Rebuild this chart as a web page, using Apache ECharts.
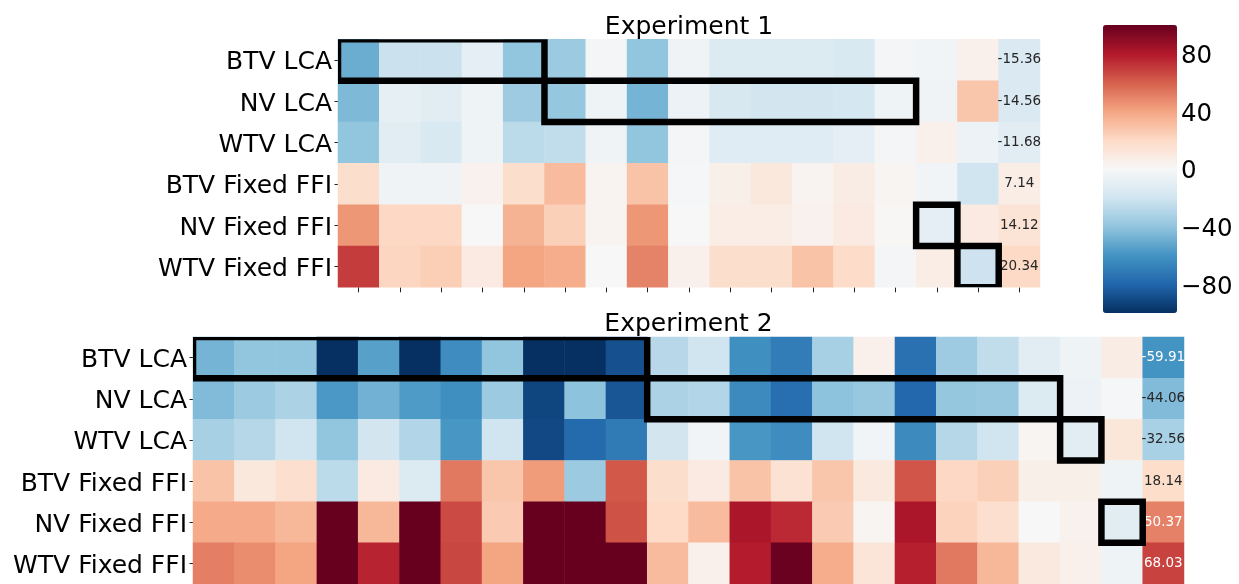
<!DOCTYPE html>
<html>
<head>
<meta charset="utf-8">
<script src="https://cdn.jsdelivr.net/npm/echarts@6/dist/echarts.min.js"></script>
<style>
  html, body { margin: 0; padding: 0; background: #fff; }
  #chart { width: 1239px; height: 584px; }
</style>
</head>
<body>
<div id="chart"></div>
<script>
// Row labels shared by both experiments
const rowLabels = ['BTV LCA', 'NV LCA', 'WTV LCA', 'BTV Fixed FFI', 'NV Fixed FFI', 'WTV Fixed FFI'];

// Experiment 1: per-item scores (16 items) and the row mean shown in the last column
const exp1Cells = [
  [-50, -22, -22, -10, -40, -37, -2, -40, -4, -14, -14, -14, -16, -2, -3, 5],
  [-45, -9, -11, -5, -36, -39, -5, -47, -6, -17, -19, -19, -18, -5, -4, 28],
  [-40, -11, -16, -5, -27, -25, -4, -40, -2, -12, -12, -12, -10, -2, 5, -6],
  [18, -4, -4, 4, 18, 32, 3, 29, -1, 6, 11, 3, 8, 2, -3, -20],
  [44, 21, 21, 0, 35, 24, 3, 44, 0, 7, 7, 4, 9, 1, -10, 9],
  [70, 22, 25, 9, 40, 37, 0, 50, 5, 18, 18, 29, 19, -2, 7, -21]
];
const exp1Means = [-15.36, -14.56, -11.68, 7.14, 14.12, 20.34];

// Experiment 2: per-item scores (23 items) and the row mean
const exp2Cells = [
  [-47, -40, -40, -100, -55, -100, -63, -40, -100, -100, -88, -28, -20, -62, -70, -33, 5, -75, -36, -25, -11, -5, 8],
  [-44, -37, -32, -58, -48, -57, -62, -37, -92, -41, -86, -32, -30, -64, -76, -41, -38, -79, -39, -38, -14, -6, -1],
  [-33, -29, -20, -40, -19, -30, -59, -20, -91, -78, -71, -19, -3, -59, -63, -20, -3, -64, -29, -20, 2, -11, 12],
  [29, 11, 17, -27, 9, -14, 53, 28, 43, -37, 62, 18, 9, 29, 15, 28, 10, 63, 21, 24, 6, 6, -5],
  [38, 38, 33, 100, 33, 100, 66, 26, 100, 100, 64, 20, 32, 82, 75, 26, 2, 82, 23, 17, 0, 4, -11],
  [51, 47, 40, 100, 77, 100, 67, 40, 100, 100, 100, 32, 5, 79, 99, 37, 13, 78, 53, 33, 10, 5, -5]
];
const exp2Means = [-59.91, -44.06, -32.56, 18.14, 50.37, 68.03];

// Highlighted blocks: [first column, last column, row]
const exp1Boxes = [[0, 4, 0], [5, 13, 1], [14, 14, 4], [15, 15, 5]];
const exp2Boxes = [[0, 10, 0], [11, 20, 1], [21, 21, 2], [22, 22, 4]];

// Colour bar ticks
const colorbarTicks = [-80, -40, 0, 40, 80];

// RdBu (reversed) colour map, -100 .. 100
const rdbuR = ['#053061', '#2166ac', '#4393c3', '#92c5de', '#d1e5f0', '#f7f7f7',
               '#fddbc7', '#f4a582', '#d6604d', '#b2182b', '#67001f'];

const FONT = 'DejaVu Sans';

function buildCells(cells, means) {
  const out = [];
  const meanCol = cells[0].length;
  cells.forEach((row, r) => {
    row.forEach((v, c) => out.push({ value: [c, r, v] }));
    const m = means[r];
    out.push({
      value: [meanCol, r, m],
      label: { show: true, color: Math.abs(m) >= 48 ? '#ffffff' : '#262626' }
    });
  });
  return out;
}

function columnKeys(cells) {
  return Array.from({ length: cells[0].length + 1 }, (_, i) => String(i));
}

function boxRenderer(params, api) {
  const c0 = api.value(0), c1 = api.value(1), r = api.value(2);
  const a = api.coord([c0, r]);
  const b = api.coord([c1, r]);
  const s = api.size([1, 1]);
  return {
    type: 'rect',
    shape: { x: a[0] - s[0] / 2, y: a[1] - s[1] / 2, width: b[0] - a[0] + s[0], height: s[1] },
    style: { fill: 'none', stroke: '#000', lineWidth: 6.5, lineJoin: 'miter' }
  };
}

const catYAxis = (gridIndex) => ({
  type: 'category',
  gridIndex,
  data: rowLabels,
  inverse: true,
  axisLine: { show: false },
  axisTick: { show: true, alignWithLabel: true, length: 3.5, lineStyle: { color: '#222', width: 1 } },
  axisLabel: {
    margin: 6,
    formatter: (v) => '{t|' + v + '}',
    rich: { t: { fontFamily: FONT, fontSize: 25, color: '#000', padding: [6, 0, 0, 0] } }
  },
  splitLine: { show: false }
});

const catXAxis = (gridIndex, cells) => ({
  type: 'category',
  gridIndex,
  data: columnKeys(cells),
  axisLine: { show: false },
  axisTick: { show: true, alignWithLabel: true, length: 5, lineStyle: { color: '#222', width: 1 } },
  axisLabel: { show: false },
  splitLine: { show: false }
});

const cellLabel = {
  show: false,
  fontFamily: FONT,
  fontSize: 13.5,
  formatter: (p) => p.value[2].toFixed(2)
};

const chart = echarts.init(document.getElementById('chart'), null, { renderer: 'canvas' });

chart.setOption({
  animation: false,
  backgroundColor: '#ffffff',
  grid: [
    { left: 338, top: 39.3, width: 702, height: 248 },
    { left: 193, top: 337, width: 991, height: 247.5 },
    { left: 1103, top: 25, width: 74, height: 288 }
  ],
  xAxis: [
    catXAxis(0, exp1Cells),
    catXAxis(1, exp2Cells),
    { type: 'value', gridIndex: 2, show: false, min: 0, max: 1 }
  ],
  yAxis: [
    catYAxis(0),
    catYAxis(1),
    {
      type: 'value',
      gridIndex: 2,
      position: 'right',
      min: -100,
      max: 100,
      axisLine: { show: false },
      splitLine: { show: false },
      axisTick: { show: true, length: 3.5, customValues: colorbarTicks, lineStyle: { color: '#222', width: 1 } },
      axisLabel: {
        customValues: colorbarTicks,
        margin: 4,
        formatter: (v) => '{t|' + (v < 0 ? '\u2212' + Math.abs(v) : String(v)) + '}',
        rich: { t: { fontFamily: FONT, fontSize: 24.5, color: '#000', padding: [6, 0, 0, 0] } }
      }
    }
  ],
  visualMap: {
    type: 'continuous',
    min: -100,
    max: 100,
    dimension: 2,
    seriesIndex: [0, 1],
    calculable: false,
    hoverLink: false,
    left: 1103,
    top: 25,
    padding: 0,
    itemWidth: 74,
    itemHeight: 288,
    inRange: { color: rdbuR }
  },
  graphic: [
    {
      type: 'text', x: 689, y: 27,
      style: { text: 'Experiment 1', fill: '#000', font: '25px "DejaVu Sans"',
               align: 'center', verticalAlign: 'middle', textAlign: 'center', textVerticalAlign: 'middle' }
    },
    {
      type: 'text', x: 688.5, y: 324.5,
      style: { text: 'Experiment 2', fill: '#000', font: '25px "DejaVu Sans"',
               align: 'center', verticalAlign: 'middle', textAlign: 'center', textVerticalAlign: 'middle' }
    }
  ],
  series: [
    {
      type: 'heatmap', xAxisIndex: 0, yAxisIndex: 0,
      data: buildCells(exp1Cells, exp1Means),
      label: cellLabel,
      emphasis: { disabled: true }
    },
    {
      type: 'heatmap', xAxisIndex: 1, yAxisIndex: 1,
      data: buildCells(exp2Cells, exp2Means),
      label: cellLabel,
      emphasis: { disabled: true }
    },
    {
      type: 'custom', xAxisIndex: 0, yAxisIndex: 0,
      data: exp1Boxes, encode: { x: [0, 1], y: 2 },
      renderItem: boxRenderer, clip: true, z: 5, silent: true
    },
    {
      type: 'custom', xAxisIndex: 1, yAxisIndex: 1,
      data: exp2Boxes, encode: { x: [0, 1], y: 2 },
      renderItem: boxRenderer, clip: true, z: 5, silent: true
    }
  ]
});
</script>
</body>
</html>
